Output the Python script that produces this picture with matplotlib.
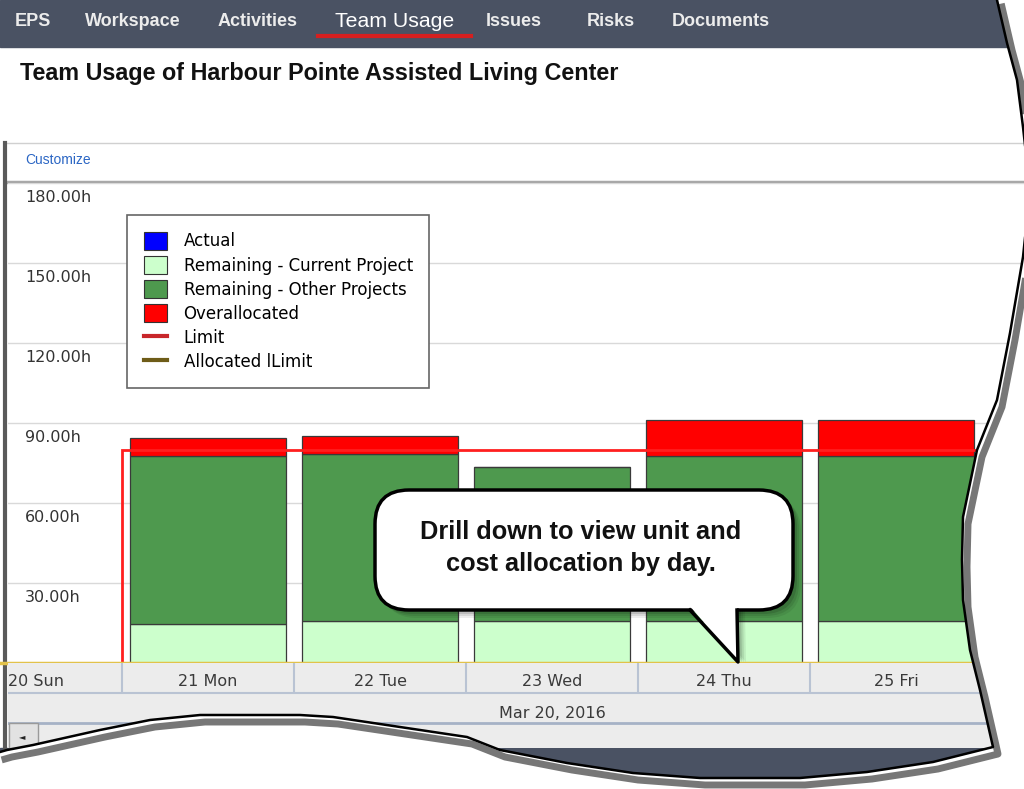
import matplotlib
matplotlib.use("Agg")
import matplotlib.pyplot as plt
import numpy as np
from matplotlib.patches import Rectangle, FancyBboxPatch, Polygon, Patch
from matplotlib.lines import Line2D

# CHART DATA (hours per day)
days = ["20 Sun", "21 Mon", "22 Tue", "23 Wed", "24 Thu", "25 Fri"]
actual = [0, 0, 0, 0, 0, 0]
remaining_current = [0, 14.6, 15.8, 15.8, 15.8, 15.8]
remaining_other = [0, 63.0, 62.6, 57.7, 61.8, 61.8]
overallocated = [0, 6.7, 6.8, 0, 13.5, 13.5]
limit = [0, 80, 80, 80, 80, 80]
allocated_limit = [0, 0, 0, 0, 0, 0]
y_ticks = [30, 60, 90, 120, 150, 180]
y_labels = ["30.00h", "60.00h", "90.00h", "120.00h", "150.00h", "180.00h"]
week_label = "Mar 20, 2016"
series_names = ["Actual", "Remaining - Current Project", "Remaining - Other Projects",
                "Overallocated", "Limit", "Allocated lLimit"]
tabs = ["EPS", "Workspace", "Activities", "Team Usage", "Issues", "Risks", "Documents"]
title = "Team Usage of Harbour Pointe Assisted Living Center"
callout = "Drill down to view unit and\ncost allocation by day."

# LAYOUT / STYLE
W, H = 1024, 789
SLATE = "#4a5263"
tab_x = [33, 133, 258, 395, 514, 611, 721]
bar_colors = ["#0000ff", "#ccffcc", "#4e994e", "#ff0000"]
UI_FONT = "Liberation Sans"

fig = plt.figure(figsize=(W / 100, H / 100), dpi=100)
fig.patch.set_facecolor("white")


def frame(x0, y0, x1, y1):
    # pixel box (origin top-left) -> figure fraction rect
    return [x0 / W, 1 - y1 / H, (x1 - x0) / W, (y1 - y0) / H]


# PAGE BACKGROUND: nav bar, title, panel borders
bg = fig.add_axes([0, 0, 1, 1], zorder=0)
bg.set_xlim(0, W)
bg.set_ylim(H, 0)
bg.axis("off")
bg.add_patch(Rectangle((0, 0), W, 47, color=SLATE))
for name, tx in zip(tabs, tab_x):
    if name == "Team Usage":
        bg.text(tx, 21, name, ha="center", va="center", fontsize=15.3, color="white",
                family=UI_FONT)
    else:
        bg.text(tx, 21, name, ha="center", va="center", fontsize=13, color="#ececec",
                family=UI_FONT, weight="bold")
bg.plot([318, 471], [36, 36], color="#d61f1f", lw=3)
bg.text(20, 73, title, ha="left", va="center", fontsize=16.8, weight="bold",
        family=UI_FONT, color="#111111")
bg.plot([5, W], [143, 143], color="#d0d0d0", lw=1)
bg.text(25, 160, "Customize", ha="left", va="center", fontsize=10, color="#2b66c4",
        family=UI_FONT)
bg.plot([5, W], [181.5, 181.5], color="#a8a8a8", lw=2.5)
bg.plot([5, 5], [143, 752], color="#5a5a5a", lw=3)
bg.add_patch(Rectangle((0, 748), W, H - 748, color=SLATE))

# MAIN CHART
ax = fig.add_axes(frame(8, 183, W, 663), zorder=1)
x = np.arange(len(days))
edges = np.arange(len(days) + 1) - 0.5
ax.set_xlim(-0.163, 5.744)
ax.set_ylim(0, 180)
ax.set_yticks(y_ticks)
ax.set_xticks([])
ax.yaxis.grid(True, color="#d9d9d9", lw=1)
ax.set_axisbelow(True)
ax.tick_params(left=False, labelleft=False)
for s in ax.spines.values():
    s.set_visible(False)

bottom = np.zeros(len(days))
for vals, color in zip([actual, remaining_current, remaining_other, overallocated], bar_colors):
    vals = np.array(vals, dtype=float)
    ax.bar(x, vals, width=0.91, bottom=bottom, color=color, edgecolor="#3a3a3a",
           linewidth=0.9, zorder=2)
    bottom += vals

ax.stairs(limit, edges, baseline=None, color="#ff1f1f", lw=2, zorder=3)
ax.stairs(allocated_limit, edges, baseline=None, color="#e2c24a", lw=2.5, zorder=4,
          clip_on=False)

for v, lab in zip(y_ticks, y_labels):
    ax.annotate(lab, xy=(0.017, v), xycoords=("axes fraction", "data"),
                xytext=(0, -7), textcoords="offset pixels", ha="left", va="top",
                fontsize=11.5, color="#333333")

handles = [Patch(facecolor=c, edgecolor="#333333", linewidth=0.8) for c in bar_colors]
handles += [Line2D([], [], color="#c8262a", lw=3), Line2D([], [], color="#6e5c18", lw=3)]
leg = ax.legend(handles, series_names, loc="upper left", bbox_to_anchor=(0.117, 0.933),
                borderaxespad=0, fontsize=12, handlelength=1.4, handleheight=1.3,
                handletextpad=1.0, labelspacing=0.33, borderpad=1.0, fancybox=False,
                framealpha=1, edgecolor="#666666")
leg.get_frame().set_linewidth(1.2)
leg.set_zorder(6)

# DATE ROWS UNDER THE CHART
dax = fig.add_axes(frame(8, 663, W, 748), zorder=1)
dax.set_facecolor("#ececec")
dax.set_xlim(ax.get_xlim())
dax.set_ylim(85, 0)
dax.set_xticks([])
dax.set_yticks([])
for s in dax.spines.values():
    s.set_visible(False)
for i, d in enumerate(days):
    dax.text(i, 19, d, ha="center", va="center", fontsize=11.5, color="#3a3a3a", clip_on=True)
dax.vlines(edges, 0, 30, color="#b9c3d3", lw=1.5)
dax.axhline(30, color="#b9c3d3", lw=1.5)
dax.axhline(59.5, color="#a6b2c6", lw=2)
dax.text(3, 51, week_label, ha="center", va="center", fontsize=11.5, color="#3a3a3a")

# OVERLAY: callout bubble and torn-paper edge
ov = fig.add_axes([0, 0, 1, 1], zorder=10)
ov.set_xlim(0, W)
ov.set_ylim(H, 0)
ov.axis("off")

ov.add_patch(Rectangle((9, 723), 29, 25, fc="#e2e2e2", ec="#9a9a9a", lw=1))
ov.text(22, 737, "\u25c4", ha="center", va="center", fontsize=6, color="#222222")

for k, a in [(8, 0.07), (6, 0.09), (4, 0.12)]:
    ov.add_patch(FancyBboxPatch((375 + k, 490 + k), 418, 120,
                                boxstyle="round,pad=0,rounding_size=34",
                                fc="black", ec="none", alpha=a))
    ov.add_patch(Polygon([(690 + k, 610), (738 + k, 662), (737 + k, 610)],
                         fc="black", ec="none", alpha=a))
ov.add_patch(FancyBboxPatch((375, 490), 418, 120, boxstyle="round,pad=0,rounding_size=34",
                            fc="white", ec="black", lw=2.5))
ov.add_patch(Polygon([(688, 604), (738, 662), (737, 604)], fc="white", ec="none"))
ov.plot([690, 738, 737], [610, 662, 610], color="black", lw=2.5)
ov.text(581, 548, callout, ha="center", va="center", fontsize=18.3, weight="bold",
        family=UI_FONT, color="#111111", linespacing=1.4)

edge_pts = [(997, 0), (1007, 43), (1017, 80), (1023, 127), (1030, 190), (1023, 257),
            (1010, 333), (997, 400), (977, 450), (963, 517), (962, 560), (963, 600),
            (970, 650), (980, 690), (993, 747), (933, 762), (867, 772), (800, 778),
            (700, 778), (633, 773), (567, 763), (500, 750), (467, 737), (400, 727),
            (333, 717), (300, 715), (200, 715), (150, 720), (100, 730), (33, 745),
            (7, 750), (0, 752)]
mask = [(W + 20, -5)] + edge_pts + [(-5, 752), (-5, H + 5), (W + 20, H + 5)]
ov.add_patch(Polygon(mask, fc="white", ec="none", zorder=8))
ex = np.array([p[0] for p in edge_pts], dtype=float)
ey = np.array([p[1] for p in edge_pts], dtype=float)
ov.plot(ex + 5, ey + 7, color="#777777", lw=5, zorder=9, solid_joinstyle="round")
ov.plot(ex, ey, color="black", lw=1.8, zorder=10)

fig.savefig("out.png", dpi=100, facecolor="white")
